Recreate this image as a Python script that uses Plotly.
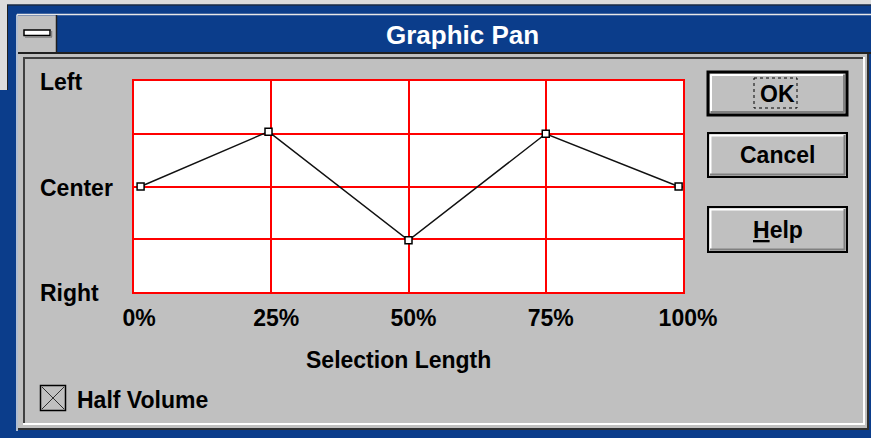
import plotly.graph_objects as go

# ---- data ----
positions = [1.2, 24.5, 50, 75, 99.2]          # Selection Length (%)
pan = [0, 52, -51, 50, 0]                       # +100 = Left, 0 = Center, -100 = Right
x_tick_vals = [0, 25, 50, 75, 100]
x_tick_text = ["0%", "25%", "50%", "75%", "100%"]
y_grid_vals = [-100, -50, 0, 50, 100]
y_label_vals = [100, 0, -100]
y_label_text = ["Left", "Center", "Right"]
button_labels = ["OK", "Cancel", "<u>H</u>elp"]
title_text = "Graphic Pan"
x_title = "Selection Length"
checkbox_text = "Half Volume"

W, H = 871, 438
BLUE = "#0b3d8b"
GRAY = "#c0c0c0"
DARK = "#808080"
FONT = "Liberation Sans"

fig = go.Figure()

fig.add_trace(go.Scatter(
    x=positions, y=pan, mode="lines+markers", xaxis="x2", yaxis="y2",
    line=dict(color="#111111", width=1.4),
    marker=dict(symbol="square", size=7, color="#ffffff",
                line=dict(color="#000000", width=1.5)),
    cliponaxis=False, showlegend=False, hoverinfo="skip"))

shapes = []

def rect(x0, y0, x1, y1, fill=None, line=None, lw=0, dash=None):
    d = dict(type="rect", xref="x", yref="y", x0=x0, y0=y0, x1=x1, y1=y1,
             layer="below", line=dict(width=lw, color=line or "rgba(0,0,0,0)"))
    if dash:
        d["line"]["dash"] = dash
    if fill:
        d["fillcolor"] = fill
    shapes.append(d)

def hline(x0, x1, y, color, w=1):
    shapes.append(dict(type="line", xref="x", yref="y", x0=x0, x1=x1, y0=y, y1=y,
                       layer="below", line=dict(color=color, width=w)))

def vline(x, y0, y1, color, w=1):
    shapes.append(dict(type="line", xref="x", yref="y", x0=x, x1=x, y0=y0, y1=y1,
                       layer="below", line=dict(color=color, width=w)))

def seg(x0, y0, x1, y1, color, w=1):
    shapes.append(dict(type="line", xref="x", yref="y", x0=x0, x1=x1, y0=y0, y1=y1,
                       layer="below", line=dict(color=color, width=w)))

# outer window frame
rect(0, 0, W, H, fill=BLUE)
rect(0, 0, W, 4.5, fill="#dcdcdc")
rect(0, 0, 7, 90, fill="#dcdcdc")
hline(7, W, 5, "#202020", 1)
vline(7.5, 5, 90, "#202020", 1)
hline(17, W, 14.5, "#e8e8e8", 1.5)
vline(17, 14.5, 431, "#e8e8e8", 1.5)

# control-menu box
rect(18, 15.5, 56, 52, fill=GRAY)
vline(56.5, 15, 53, "#202020", 1.5)
rect(24, 30, 50, 35.5, fill="#ffffff", line="#000000", lw=1.5)
hline(25, 52, 37, DARK, 1.5)
vline(51.5, 31, 37, DARK, 1.5)

# title bar bottom edge + client area
hline(18, W, 53, "#202020", 2)
rect(18, 54, 867, 428, fill=GRAY)
hline(18, 869, 429, "#303030", 2)
vline(868, 54, 430, "#303030", 2)

# inner sunken frame
hline(23, 864, 58, "#404040", 2)
vline(24, 58, 424, "#404040", 2)
hline(23, 865, 424, "#ffffff", 2)
vline(864, 57, 425, "#ffffff", 2)

# buttons
btn_boxes = [(708, 72, 847, 115), (708, 133, 847, 177), (708, 207, 847, 252)]
for i, (x0, y0, x1, y1) in enumerate(btn_boxes):
    lw = 3 if i == 0 else 2
    rect(x0, y0, x1, y1, fill=GRAY, line="#000000", lw=lw)
    o = lw / 2 + 1
    hline(x0 + o, x1 - o, y0 + o + 0.5, "#ffffff", 2)
    vline(x0 + o + 0.5, y0 + o, y1 - o, "#ffffff", 2)
    hline(x0 + o, x1 - o, y1 - o - 0.5, DARK, 2)
    vline(x1 - o - 0.5, y0 + o, y1 - o, DARK, 2)
# focus rectangle on OK
rect(754, 78, 797, 108, line="#000000", lw=1, dash="dot")

# checkbox
rect(40.5, 385.5, 65.5, 410.5, fill=GRAY, line="#000000", lw=1.5)
seg(42, 387, 64, 409, "#303030", 1)
seg(42, 409, 64, 387, "#303030", 1)

annotations = []
def text(x, y, s, size=23, color="#000000", xanchor="center", yref="y", yshift=0):
    annotations.append(dict(xref="x", yref=yref, x=x, y=y, text="<b>" + s + "</b>",
                            showarrow=False, xanchor=xanchor, yanchor="middle",
                            yshift=yshift,
                            font=dict(family=FONT, size=size, color=color)))

text(462, 35, title_text, size=26, color="#ffffff")
for lab, v in zip(y_label_text, y_label_vals):
    text(38, v, lab, xanchor="left", yref="y2", yshift=-1)
text(398, 360, x_title)
text(75, 400, checkbox_text, xanchor="left")
for lab, (x0, y0, x1, y1) in zip(button_labels, btn_boxes):
    text((x0 + x1) / 2, (y0 + y1) / 2, lab)

RED = "#ff0000"
fig.update_layout(
    template="none",
    width=W, height=H, margin=dict(l=0, r=0, t=0, b=0, autoexpand=False),
    paper_bgcolor=BLUE, plot_bgcolor="#ffffff", showlegend=False,
    shapes=shapes, annotations=annotations,
    xaxis=dict(domain=[0, 1], range=[0, W], visible=False, fixedrange=True,
               automargin=False),
    yaxis=dict(domain=[0, 1], range=[H, 0], visible=False, fixedrange=True,
               automargin=False),
    xaxis2=dict(domain=[134 / W, 683 / W], range=[0, 100], anchor="y2",
                tickvals=x_tick_vals, ticktext=x_tick_text, automargin=False,
                showgrid=True, gridcolor=RED, gridwidth=2, zeroline=False,
                showline=True, mirror=True, linecolor=RED, linewidth=2,
                ticks="", ticklabelstandoff=4, ticklabelshift=5,
                tickfont=dict(family=FONT, size=23, color="#000000", weight="bold"),
                fixedrange=True),
    yaxis2=dict(domain=[1 - 292 / H, 1 - 81 / H], range=[-100, 100], anchor="x2",
                tickvals=y_grid_vals, showticklabels=False, automargin=False,
                showgrid=True, gridcolor=RED, gridwidth=2, zeroline=False,
                showline=True, mirror=True, linecolor=RED, linewidth=2,
                ticks="", fixedrange=True),
)

fig.write_html("out.html", config={"displayModeBar": False},
               post_script="document.body.style.margin='0';document.body.style.overflow='hidden';")
